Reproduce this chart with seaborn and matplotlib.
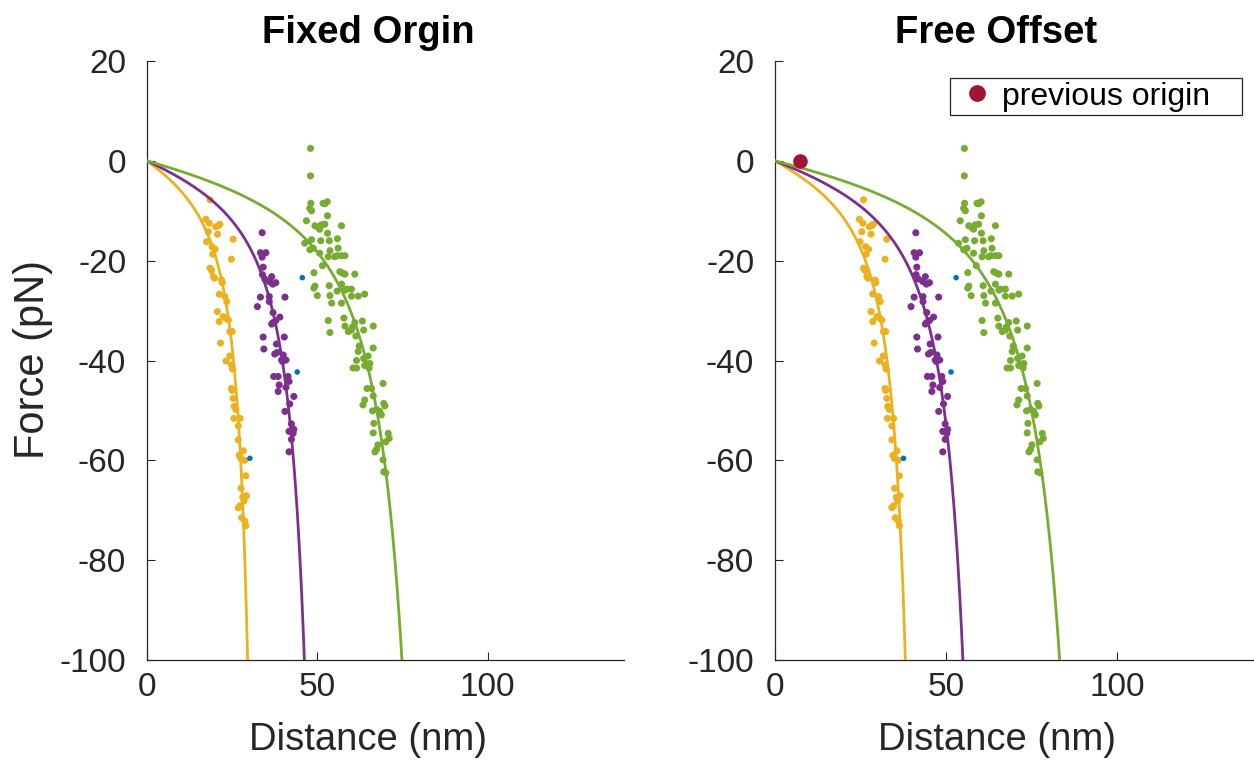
import numpy as np
import pandas as pd
import matplotlib
matplotlib.use("Agg")
import matplotlib.pyplot as plt
from matplotlib.patches import Rectangle
import seaborn as sns

# ---------------- data (Fixed Origin panel) ----------------
yellow_x = [18.5, 17.3, 18.3, 20.2, 21.4, 20.9, 18.0, 17.5, 20.7, 19.1, 20.0, 25.3, 19.3, 24.8,
            18.5, 19.0, 19.5, 19.8, 21.9, 22.1, 21.2, 22.9, 23.4, 20.7, 21.2, 22.4, 23.2, 23.9,
            24.3, 25.0, 21.6, 24.3, 23.2, 24.8, 25.1, 24.8, 25.0, 25.3, 25.6, 26.1, 25.5, 27.3,
            26.8, 26.8, 28.3, 27.1, 27.5, 28.7, 29.0, 27.6, 28.1, 29.2, 28.5, 26.8, 27.3, 27.8,
            28.7, 29.0]
yellow_f = [-7.8, -11.7, -12.5, -13.2, -12.7, -13.0, -14.2, -16.2, -14.7, -17.2, -17.7, -15.7,
            -18.7, -19.7, -21.5, -22.0, -23.2, -23.5, -23.9, -24.4, -26.7, -27.2, -28.2, -30.2,
            -32.2, -31.2, -31.5, -31.9, -34.2, -34.2, -36.5, -39.1, -40.1, -40.9, -41.7, -45.6,
            -46.0, -47.6, -49.2, -49.8, -51.6, -51.6, -53.1, -55.9, -58.1, -59.0, -59.6, -60.0,
            -63.1, -65.6, -67.4, -67.1, -68.1, -69.5, -69.1, -71.5, -72.2, -73.1]

purple_x = [33.8, 33.3, 34.9, 33.8, 34.1, 33.9, 34.6, 36.6, 35.9, 36.9, 37.8, 33.3, 35.9, 40.5,
            32.4, 35.9, 37.0, 39.0, 37.0, 36.6, 37.8, 34.1, 40.3, 34.3, 38.0, 37.5, 38.2, 40.0,
            39.5, 39.8, 40.8, 37.2, 38.5, 41.4, 41.7, 38.8, 40.8, 38.5, 43.1, 41.9, 40.5, 42.4,
            41.7, 42.9, 43.1, 42.4, 41.7]
purple_f = [-14.4, -18.4, -18.4, -19.3, -21.3, -22.8, -23.7, -23.2, -24.2, -24.7, -24.4, -27.3,
            -27.2, -27.3, -29.2, -28.2, -30.4, -31.3, -32.4, -32.7, -32.0, -35.3, -35.3, -37.7,
            -36.7, -38.7, -38.4, -38.9, -39.9, -40.2, -39.9, -43.2, -43.2, -43.2, -44.2, -44.9,
            -45.4, -46.2, -47.2, -48.7, -50.2, -52.7, -54.2, -54.6, -53.8, -55.8, -58.3]

green_x = [48.0, 48.0, 48.1, 47.8, 48.3, 51.7, 52.9, 52.2, 53.0, 46.8, 49.3, 50.2, 51.2, 52.2,
           50.7, 57.1, 53.0, 46.3, 48.3, 51.0, 53.5, 55.9, 47.8, 48.8, 50.7, 53.7, 56.1, 53.2,
           55.1, 55.8, 57.1, 58.1, 51.5, 49.0, 56.6, 57.4, 58.1, 61.0, 49.3, 49.0, 53.5, 57.1,
           50.0, 53.7, 55.8, 58.1, 58.6, 60.0, 54.2, 57.1, 60.0, 62.0, 63.9, 53.2, 57.8, 61.0,
           63.2, 58.1, 59.1, 60.0, 60.3, 53.7, 61.3, 62.3, 66.4, 63.6, 66.4, 62.0, 63.6, 64.9,
           65.4, 61.5, 60.5, 61.5, 63.9, 65.2, 64.6, 69.3, 65.9, 66.4, 63.9, 63.4, 66.2, 67.4,
           68.3, 69.5, 69.8, 68.8, 66.6, 66.4, 70.8, 71.1, 70.1, 67.8, 67.4, 66.9, 69.3, 69.5,
           70.1]
green_f = [2.5, -3.0, -8.5, -9.5, -10.0, -8.5, -8.2, -8.6, -11.0, -12.0, -13.0, -13.3, -12.8,
           -12.7, -13.7, -13.0, -14.5, -16.5, -15.8, -16.0, -16.0, -15.6, -17.8, -17.5, -18.5,
           -18.0, -17.5, -19.2, -19.2, -19.0, -19.0, -19.0, -21.0, -22.4, -22.2, -22.5, -22.7,
           -22.7, -25.1, -25.5, -25.0, -24.7, -27.0, -27.0, -26.1, -25.9, -25.7, -25.7, -28.5,
           -28.5, -27.1, -27.1, -26.7, -32.0, -31.5, -32.4, -32.1, -33.1, -34.2, -33.9, -33.3,
           -34.4, -35.1, -37.1, -33.1, -33.9, -37.5, -38.2, -39.6, -39.1, -40.6, -40.0, -41.5,
           -41.5, -41.0, -41.5, -45.6, -44.6, -45.6, -47.1, -47.9, -48.9, -50.1, -49.8, -50.2,
           -48.6, -49.1, -50.9, -52.6, -54.5, -54.6, -55.6, -56.3, -56.9, -57.8, -58.3, -59.9,
           -62.3, -62.5]

blue_x = [45.6, 44.1, 30.2]
blue_f = [-23.4, -42.3, -59.6]

# offset found by the free-offset fit (= position of the previous origin)
offset = 7.4

# WLC fit parameters: contour lengths (nm) and force scale (pN)
series_names = ["yellow", "purple", "green"]
fixed_L = [36.0, 56.3, 91.2]
free_L = [46.5, 67.0, 101.5]
force_scale = 12.0

titles = ["Fixed Orgin", "Free Offset"]
x_ticks = [0, 50, 100]
y_ticks = [20, 0, -20, -40, -60, -80, -100]

palette = {"yellow": "#EDB120", "purple": "#7E2F8E", "green": "#77AC30", "blue": "#0072BD"}
origin_color = "#A2142F"
axis_color = "#262626"

# ---------------- build frames ----------------
def scatter_frame(shift):
    parts = []
    for name, xs, fs in [("yellow", yellow_x, yellow_f), ("purple", purple_x, purple_f),
                         ("green", green_x, green_f)]:
        parts.append(pd.DataFrame({"x": np.asarray(xs) + shift, "f": fs, "s": name}))
    return pd.concat(parts, ignore_index=True)


def blue_frame(shift):
    return pd.DataFrame({"x": np.asarray(blue_x) + shift, "f": blue_f, "s": "blue"})


def wlc_frame(lengths):
    parts = []
    for name, L in zip(series_names, lengths):
        u = np.linspace(0, 0.9, 600)
        f = -force_scale * (1.0 / (4.0 * (1.0 - u) ** 2) - 0.25 + u)
        parts.append(pd.DataFrame({"x": u * L, "f": f, "s": name}))
    return pd.concat(parts, ignore_index=True)


# ---------------- plotting ----------------
sns.set_theme(style="white")
plt.rcParams["font.family"] = ["Liberation Sans", "DejaVu Sans"]
plt.rcParams["axes.unicode_minus"] = False

fig = plt.figure(figsize=(12.54, 7.62), dpi=100)
ax1 = fig.add_axes([0.1172, 0.1339, 0.3804, 0.786])
ax2 = fig.add_axes([0.618, 0.1339, 0.3816, 0.786])

# previous origin marker (right panel)
origin_df = pd.DataFrame({"x": [offset], "f": [0.0], "s": ["previous origin"]})
sns.scatterplot(data=origin_df, x="x", y="f", hue="s", palette={"previous origin": origin_color},
                s=110, linewidth=0, ax=ax2, zorder=4)

for i, (ax, shift, lengths) in enumerate([(ax1, 0.0, fixed_L), (ax2, offset, free_L)]):
    sns.scatterplot(data=scatter_frame(shift), x="x", y="f", hue="s", palette=palette,
                    s=26, linewidth=0, legend=False, ax=ax, zorder=2)
    sns.scatterplot(data=blue_frame(shift), x="x", y="f", hue="s", palette=palette,
                    s=16, linewidth=0, legend=False, ax=ax, zorder=2)
    sns.lineplot(data=wlc_frame(lengths), x="x", y="f", hue="s", palette=palette,
                 sort=False, estimator=None, linewidth=2.0, legend=False, ax=ax, zorder=3)

    ax.set_xlim(0, 140)
    ax.set_ylim(-100, 20)
    ax.set_xticks(x_ticks)
    ax.set_yticks(y_ticks)
    ax.set_xticklabels([str(t) for t in x_ticks])
    ax.set_yticklabels([str(t) for t in y_ticks])
    ax.tick_params(direction="in", length=6, width=0.8, labelsize=24, colors=axis_color,
                   left=True, bottom=True)
    ax.tick_params(axis="y", pad=15)
    ax.tick_params(axis="x", pad=9)
    for side in ["top", "right"]:
        ax.spines[side].set_visible(False)
    for side in ["left", "bottom"]:
        ax.spines[side].set_color(axis_color)
        ax.spines[side].set_linewidth(0.9)
    ax.set_xlabel("Distance (nm)", fontsize=27.5, color=axis_color)
    ax.xaxis.set_label_coords(0.463, -0.1035)
    ax.set_ylabel("")
    ax.text(0.463, 1.03, titles[i], transform=ax.transAxes, ha="center", va="baseline",
            fontsize=27.5, fontweight="bold", color="black")

ax1.set_ylabel("Force (pN)", fontsize=30, color=axis_color)
ax1.yaxis.set_label_coords(-0.198, 0.5025)

# legend: box drawn as a frame, entries placed inside it
box = Rectangle((0.365, 0.9098), 0.61, 0.0618, transform=ax2.transAxes, fill=True,
                facecolor="white", edgecolor=axis_color, linewidth=0.9, zorder=5,
                clip_on=False)
ax2.add_patch(box)
leg = ax2.legend(loc="center left", bbox_to_anchor=(0.388, 0.9407), borderaxespad=0,
                 borderpad=0, fontsize=23, frameon=False, handlelength=1.0,
                 handletextpad=0.31, markerscale=1.15)
leg.set_zorder(6)
for t in leg.get_texts():
    t.set_color("black")

fig.savefig("out.png", dpi=100, facecolor="white")
